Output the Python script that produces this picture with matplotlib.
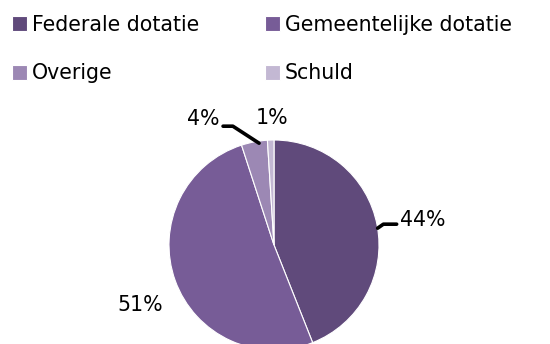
import numpy as np
import matplotlib
matplotlib.use("Agg")
import matplotlib.pyplot as plt

plt.rcParams['font.family'] = ['DejaVu Sans']

# Funding sources (share of total, %)
categories = ["Federale dotatie", "Gemeentelijke dotatie", "Overige", "Schuld"]
shares = [44, 51, 4, 1]
labels = ["44%", "51%", "4%", "1%"]
colors = ["#604A7B", "#775C97", "#9C88B4", "#C3B8D3"]

W, H = 550, 344
fig = plt.figure(figsize=(W / 100, H / 100), dpi=100)
ax = fig.add_axes([0, 0, 1, 1])

cx, cy, R = 274, 99, 105
wedges, _ = ax.pie(shares, colors=colors, startangle=90, counterclock=False,
                   center=(cx, cy), radius=R,
                   wedgeprops=dict(edgecolor="white", linewidth=0.8))
ax.set_xlim(0, W)
ax.set_ylim(0, H)
ax.set_aspect("equal")
ax.axis("off")


def rim(wedge, frac=1.0, t=0.5):
    ang = np.deg2rad(wedge.theta1 + t * (wedge.theta2 - wedge.theta1))
    return cx + frac * R * np.cos(ang), cy + frac * R * np.sin(ang)


fs = 14.8
line_kw = dict(arrowstyle="-", color="black", lw=2.6, shrinkA=0, shrinkB=0)

# 44% label with short leader
p = rim(wedges[0], 1.0, 0.49)
ax.annotate("", xy=p, xytext=(p[0] + 19, p[1] + 4),
            arrowprops=dict(**line_kw, connectionstyle="angle,angleA=0,angleB=35"))
ax.text(p[0] + 22, p[1] + 8, labels[0], fontsize=fs, ha="left", va="center")

# 51% label
ax.text(140, 39, labels[1], fontsize=fs, ha="center", va="center")

# 4% label with bent leader
p = rim(wedges[2], 0.98, 0.33)
ax.annotate("", xy=p, xytext=(p[0] - 36, p[1] + 17),
            arrowprops=dict(**line_kw, connectionstyle="angle,angleA=0,angleB=147"))
ax.text(p[0] - 40, p[1] + 24, labels[2], fontsize=fs, ha="right", va="center")

# 1% label
ax.text(272, 226, labels[3], fontsize=fs, ha="center", va="center")

order = [0, 2, 1, 3]
ax.legend([wedges[i] for i in order], [categories[i] for i in order],
          ncol=2, loc="upper left", bbox_to_anchor=(12 / W, 1 - 15 / H),
          bbox_transform=fig.transFigure, frameon=False, fontsize=fs,
          handlelength=0.75, handleheight=0.75, handletextpad=0.22,
          labelspacing=1.38, columnspacing=3.2, borderpad=0, borderaxespad=0)

fig.savefig("out.png", dpi=100)
